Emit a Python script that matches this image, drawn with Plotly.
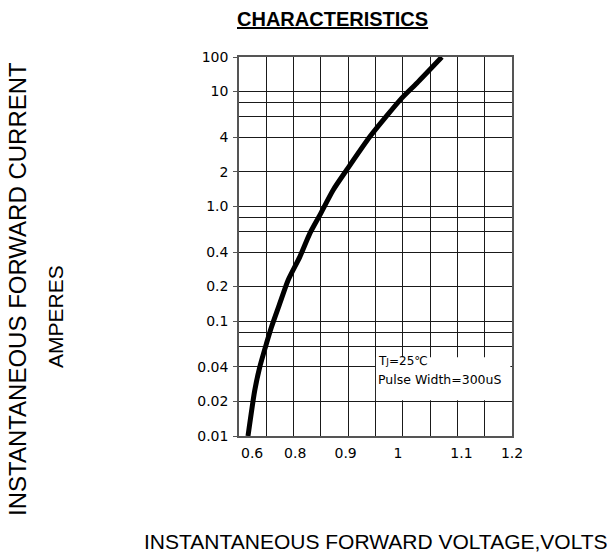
import math
import plotly.graph_objects as go

# ---- data ----
voltage = [0.7165, 0.7288, 0.7380, 0.7503, 0.7595, 0.7747, 0.7899, 0.8114,
           0.8298, 0.8481, 0.8725, 0.8971, 0.9399, 0.9981, 1.0256, 1.0715]
current = [0.0100, 0.0249, 0.0398, 0.0638, 0.0889, 0.1426, 0.2275, 0.363,
           0.581, 0.839, 1.387, 2.07, 4.05, 8.75, 11.8, 19.95]

x_tick_vals = [0.7240, 0.8030, 0.8953, 0.9913, 1.1075, 1.2]
x_tick_text = ["0.6", "0.8", "0.9", "1", "1.1", "1.2"]
y_tick_vals = [0.01, 0.02, 0.04, 0.1, 0.2, 0.4, 1, 2, 4, 10, 19.95]
y_tick_text = ["0.01", "0.02", "0.04", "0.1", "0.2", "0.4", "1.0", "2", "4", "10", "100"]
y_extra_grid = [0.06, 0.08, 0.6, 0.8, 6, 8]

W, H = 614, 557
L, R, T, B = 239, 102, 57, 121
PW, PH = W - L - R, H - T - B


def px(xp):
    return (xp - L) / PW


def py(yp):
    return 1 - (yp - T) / PH


GRID = "#1a1a1a"
FONT = "Liberation Sans, Arial, sans-serif"
TICKFONT = dict(family="DejaVu Sans, sans-serif", size=14, color="black")

fig = go.Figure()
fig.add_trace(go.Scatter(
    x=voltage, y=current, mode="lines",
    line=dict(color="black", width=5, shape="spline", smoothing=0.6),
    hoverinfo="skip", showlegend=False,
))

fig.update_layout(
    width=W, height=H,
    margin=dict(l=L, r=R, t=T, b=B),
    paper_bgcolor="white", plot_bgcolor="white",
    showlegend=False,
    xaxis=dict(
        range=[0.7, 1.2], tickmode="array", tickvals=x_tick_vals, ticktext=x_tick_text,
        showgrid=False, zeroline=False,
        showline=True, mirror=True, linecolor="#555", linewidth=1.5,
        ticks="", ticklabelstandoff=3,
        tickfont=TICKFONT,
        minor=dict(tickmode="linear", tick0=0.7, dtick=0.05, showgrid=True,
                   gridcolor=GRID, gridwidth=1, ticks=""),
    ),
    yaxis=dict(
        type="log", range=[-2, 1.3], tickmode="array", tickvals=y_tick_vals, ticktext=y_tick_text,
        showgrid=True, gridcolor=GRID, gridwidth=1, zeroline=False,
        showline=True, mirror=True, linecolor="#555", linewidth=1.5,
        ticks="outside", ticklen=4, tickcolor="#555", ticklabelstandoff=2,
        tickfont=TICKFONT,
        minor=dict(tickmode="array", tickvals=y_extra_grid, showgrid=True,
                   gridcolor=GRID, gridwidth=1, ticks=""),
    ),
)

# white text box in the lower right of the plot
fig.add_shape(type="rect", xref="x", yref="y",
              x0=0.9508, x1=1.197, y0=0.0205, y1=0.0484,
              fillcolor="white", line=dict(width=0), layer="above")

fig.add_annotation(xref="x", yref="y", x=0.951, y=math.log10(0.0447), xanchor="left", yanchor="middle",
                   text="T<span style='font-size:9px'>J</span>=25℃",
                   showarrow=False, font=dict(family="DejaVu Sans, sans-serif", size=12, color="black"))
fig.add_annotation(xref="x", yref="y", x=0.951, y=math.log10(0.0311), xanchor="left", yanchor="middle",
                   text="Pulse Width=300uS",
                   showarrow=False, font=dict(family="DejaVu Sans, sans-serif", size=12.5, color="black"))

# titles
fig.add_annotation(xref="paper", yref="paper", x=px(332), y=py(19),
                   xanchor="center", yanchor="middle",
                   text="<b><u>CHARACTERISTICS</u></b>", showarrow=False,
                   font=dict(family=FONT, size=20, color="black"))
fig.add_annotation(xref="paper", yref="paper", x=px(17), y=py(289), textangle=-90,
                   xanchor="center", yanchor="middle",
                   text="INSTANTANEOUS FORWARD CURRENT", showarrow=False,
                   font=dict(family=FONT, size=24, color="black"))
fig.add_annotation(xref="paper", yref="paper", x=px(55), y=py(317), textangle=-90,
                   xanchor="center", yanchor="middle",
                   text="AMPERES", showarrow=False,
                   font=dict(family=FONT, size=21, color="black"))
fig.add_annotation(xref="paper", yref="paper", x=px(376), y=py(541),
                   xanchor="center", yanchor="middle",
                   text="INSTANTANEOUS FORWARD VOLTAGE,VOLTS", showarrow=False,
                   font=dict(family=FONT, size=21, color="black"))

fig.write_html("out.html", config={"displayModeBar": False},
               post_script="document.body.style.margin='0';")
